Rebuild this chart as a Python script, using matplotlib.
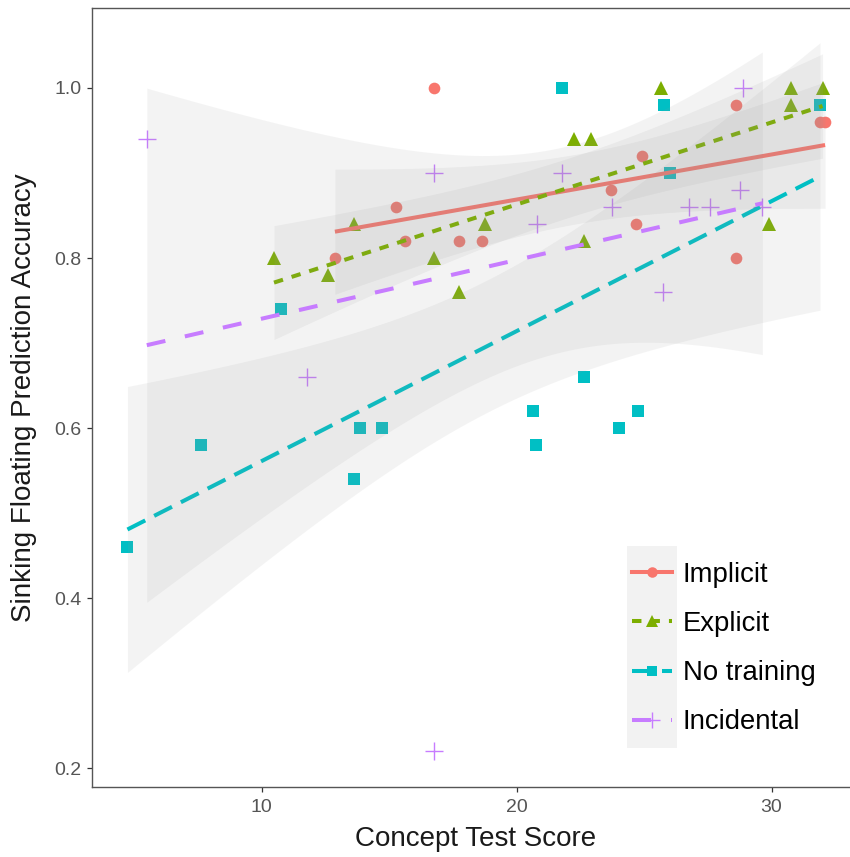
import math
import numpy as np
import matplotlib
matplotlib.use("Agg")
import matplotlib.pyplot as plt
from matplotlib.lines import Line2D
from matplotlib.patches import Rectangle

plt.rcParams['font.family'] = ['Liberation Sans', 'DejaVu Sans']
plt.rcParams['lines.scale_dashes'] = False

# Concept test score vs. sinking/floating prediction accuracy, per training group
implicit_x = [12.87, 15.25, 15.6, 16.76, 17.74, 18.63, 23.7, 24.7, 24.9, 28.6, 28.6, 31.9, 32.1]
implicit_y = [0.80, 0.86, 0.82, 1.00, 0.82, 0.82, 0.88, 0.84, 0.92, 0.98, 0.80, 0.96, 0.96]

explicit_x = [10.48, 12.6, 13.62, 16.76, 17.74, 18.75, 22.25, 22.64, 22.9, 25.65, 29.9, 30.75, 30.75, 32.0]
explicit_y = [0.80, 0.78, 0.84, 0.80, 0.76, 0.84, 0.94, 0.82, 0.94, 1.00, 0.84, 1.00, 0.98, 1.00]

notrain_x = [4.73, 7.61, 10.75, 13.62, 13.86, 14.73, 20.64, 20.77, 21.76, 22.64, 24.0, 24.77, 25.78, 26.0, 31.9]
notrain_y = [0.46, 0.58, 0.74, 0.54, 0.60, 0.60, 0.62, 0.58, 1.00, 0.66, 0.60, 0.62, 0.98, 0.90, 0.98]

incidental_x = [5.49, 11.76, 16.76, 16.76, 20.78, 21.76, 23.75, 25.75, 26.76, 27.6, 28.78, 28.89, 29.64]
incidental_y = [0.94, 0.66, 0.90, 0.22, 0.84, 0.90, 0.86, 0.76, 0.86, 0.86, 0.88, 1.00, 0.86]

group_names = ["Implicit", "Explicit", "No training", "Incidental"]
group_x = [implicit_x, explicit_x, notrain_x, incidental_x]
group_y = [implicit_y, explicit_y, notrain_y, incidental_y]

colors = ["#F8766D", "#7CAE00", "#00BFC4", "#C77CFF"]
markers = ["o", "^", "s", "+"]
msizes = [8.4, 10.0, 8.2, 13.0]
dashes = ["-", (0, (6.8, 6.5)), (0, (14.4, 7.2)), (0, (13.7, 14.4))]


def t_crit(df, p=0.975):
    # Student t quantile by bisection on a numerically integrated cdf
    c = math.exp(math.lgamma((df + 1) / 2) - math.lgamma(df / 2)) / math.sqrt(df * math.pi)

    def cdf(t):
        xs = np.linspace(0, t, 4001)
        return 0.5 + np.trapezoid(c * (1 + xs ** 2 / df) ** (-(df + 1) / 2), xs)

    lo, hi = 0.0, 20.0
    for _ in range(60):
        mid = (lo + hi) / 2
        if cdf(mid) < p:
            lo = mid
        else:
            hi = mid
    return (lo + hi) / 2


def lm_band(x, y, n=80):
    x = np.asarray(x, float)
    y = np.asarray(y, float)
    b, a = np.polyfit(x, y, 1)
    resid = y - (a + b * x)
    dof = len(x) - 2
    s = np.sqrt(np.sum(resid ** 2) / dof)
    xs = np.linspace(x.min(), x.max(), n)
    se = s * np.sqrt(1 / len(x) + (xs - x.mean()) ** 2 / np.sum((x - x.mean()) ** 2))
    fit = a + b * xs
    w = t_crit(dof) * se
    return xs, fit, fit - w, fit + w


fig = plt.figure(figsize=(8.5, 8.57), dpi=100)
W, H = 850, 857
ax = fig.add_axes([92 / W, 1 - 787 / H, (860 - 92) / W, (787 - 8) / H])

for gx, gy, col, m, ms in zip(group_x, group_y, colors, markers, msizes):
    if m == "+":
        ax.plot(gx, gy, linestyle="none", marker=m, ms=ms, mew=1.0, color=col, zorder=2)
    else:
        ax.plot(gx, gy, linestyle="none", marker=m, ms=ms, mew=0, color=col, zorder=2)

for gx, gy, col, ls in zip(group_x, group_y, colors, dashes):
    xs, fit, lo, hi = lm_band(gx, gy)
    ax.fill_between(xs, lo, hi, color="#999999", alpha=0.11, lw=0, zorder=3)
    ax.plot(xs, fit, color=col, lw=2.9, linestyle=ls, solid_capstyle="butt",
            dash_capstyle="butt", zorder=3)

ax.set_xlim(3.34, 33.47)
ax.set_ylim(0.178, 1.094)
ax.set_xticks([10, 20, 30])
ax.set_yticks([0.2, 0.4, 0.6, 0.8, 1.0])
ax.set_yticklabels(["0.2", "0.4", "0.6", "0.8", "1.0"])
ax.tick_params(length=3.5, width=0.9, color="#333333", labelcolor="#555555",
               labelsize=14)
ax.tick_params(axis="x", pad=5)
ax.tick_params(axis="y", pad=4)
for sp in ax.spines.values():
    sp.set_color("#555555")
    sp.set_linewidth(1.0)

ax.set_xlabel("Concept Test Score", fontsize=20, color="#1a1a1a", labelpad=7)
ax.set_ylabel("Sinking Floating Prediction Accuracy", fontsize=20, color="#1a1a1a")
ax.yaxis.set_label_coords(-0.072, 0.5)

# legend keys sit on a light grey strip
ax.add_patch(Rectangle((627 / W, 1 - 748 / H), 50 / W, 202 / H,
                       transform=fig.transFigure, facecolor="#f2f2f2",
                       edgecolor="none", zorder=4, clip_on=False))
handles = []
for name, col, m, ms, ls in zip(group_names, colors, markers, msizes, dashes):
    handles.append(Line2D([], [], color=col, lw=2.9, linestyle=ls, marker=m, ms=ms * 0.9,
                          mew=1.0 if m == "+" else 0, label=name))
leg = ax.legend(handles=handles, loc="upper left", bbox_to_anchor=(632 / W, 1 - 562 / H),
                bbox_transform=fig.transFigure, frameon=False, fontsize=19.8,
                handlelength=1.45, handletextpad=0.4, labelspacing=0.84,
                borderpad=0, borderaxespad=0)
leg.set_zorder(5)

fig.savefig("out.png", dpi=100)
